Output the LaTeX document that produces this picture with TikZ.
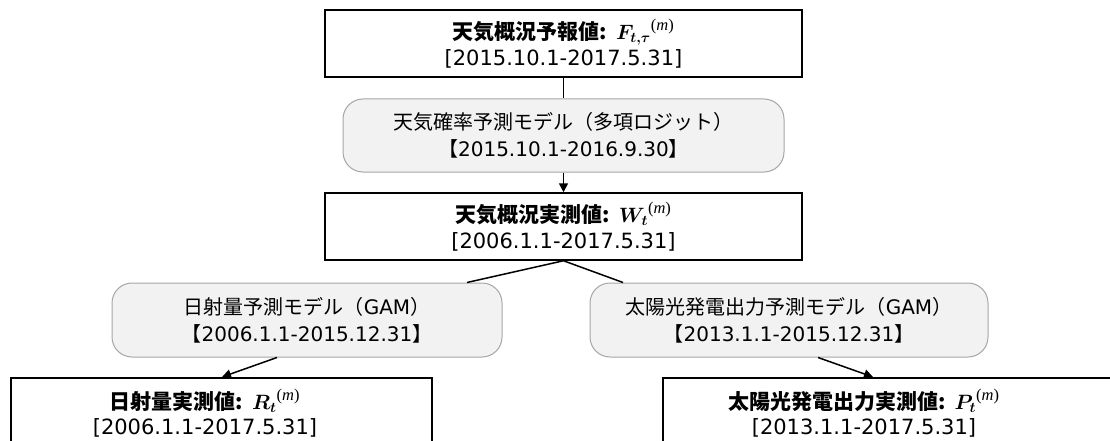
\documentclass[tikz,border=0pt]{standalone}
\usepackage{fontspec}
\setmainfont{DejaVu Sans}
\newfontfamily\jp{Noto Sans CJK JP}
\newfontfamily\serifm{Liberation Serif}
\usepackage{bm}
\usetikzlibrary{arrows.meta}
\definecolor{boxfill}{HTML}{F2F2F2}
\definecolor{boxline}{HTML}{A6A6A6}
\newcommand{\supm}{^{\mbox{\serifm\fontsize{16.5}{18}\selectfont(\textit{m})}}}
\begin{document}
\begin{tikzpicture}[x=1pt,y=-1pt,
  databox/.style={draw=black, line width=1.5pt, minimum width=477pt, minimum height=67pt,
    align=center, inner sep=0pt, font=\fontsize{21}{26}\selectfont},
  modelbox/.style={draw=boxline, fill=boxfill, line width=1pt, rounded corners=20pt,
    minimum height=73pt, align=center, inner sep=0pt, font=\fontsize{20}{27}\selectfont},
  plaintext/.style={align=center, inner sep=0pt, font=\fontsize{21}{25}\selectfont},
  link/.style={line width=1.5pt},
  arrowlink/.style={link, -{Triangle[length=9pt,width=9pt]}}]
\useasboundingbox (0,0) rectangle (1110,441);
\node[databox] (F) at (563.5,43.5)
  {{\jp\bfseries 天気概況予報値:} ${\bm{F_{t,\tau}}}\supm$\\{}[2015.10.1-2017.5.31]};
\node[modelbox, minimum width=441pt] (A) at (563.5,135.5)
  {{\jp 天気確率予測モデル（多項ロジット）}\\{\jp 【}2015.10.1-2016.9.30{\jp 】}};
\node[databox] (W) at (563.5,226.5)
  {{\jp\bfseries 天気概況実測値:} ${\bm{W_{t}}}\supm$\\{}[2006.1.1-2017.5.31]};
\node[modelbox, minimum width=390pt, minimum height=74pt] (B) at (307,320)
  {{\jp 日射量予測モデル（}GAM{\jp ）}\\{\jp 【}2006.1.1-2015.12.31{\jp 】}};
\node[modelbox, minimum width=398pt, minimum height=74pt] (C) at (789,320)
  {{\jp 太陽光発電出力予測モデル（}GAM{\jp ）}\\{\jp 【}2013.1.1-2015.12.31{\jp 】}};
\node[databox, minimum width=421pt, minimum height=80pt, anchor=north west] (R) at (10,377) {};
\node[plaintext] (Rtext) at (205,413)
  {{\jp\bfseries 日射量実測値:} ${\bm{R_{t}}}\supm$\\{}[2006.1.1-2017.5.31]};
\node[databox, minimum width=470pt, minimum height=80pt, anchor=north west] (P) at (662,377) {};
\node[plaintext] (Ptext) at (864,413)
  {{\jp\bfseries 太陽光発電出力実測値:} ${\bm{P_{t}}}\supm$\\{}[2013.1.1-2017.5.31]};
\draw[link] (F.south) -- (A.north);
\draw[arrowlink] (A.south) -- (W.north);
\draw[link] (W.south) -- ([xshift=160pt]B.north);
\draw[link] (W.south) -- ([xshift=-166pt]C.north);
\draw[arrowlink] ([xshift=-30pt]B.south) -- ([xshift=212pt]R.north west);
\draw[arrowlink] ([xshift=29pt]C.south) -- ([xshift=211pt]P.north west);
\end{tikzpicture}
\end{document}
